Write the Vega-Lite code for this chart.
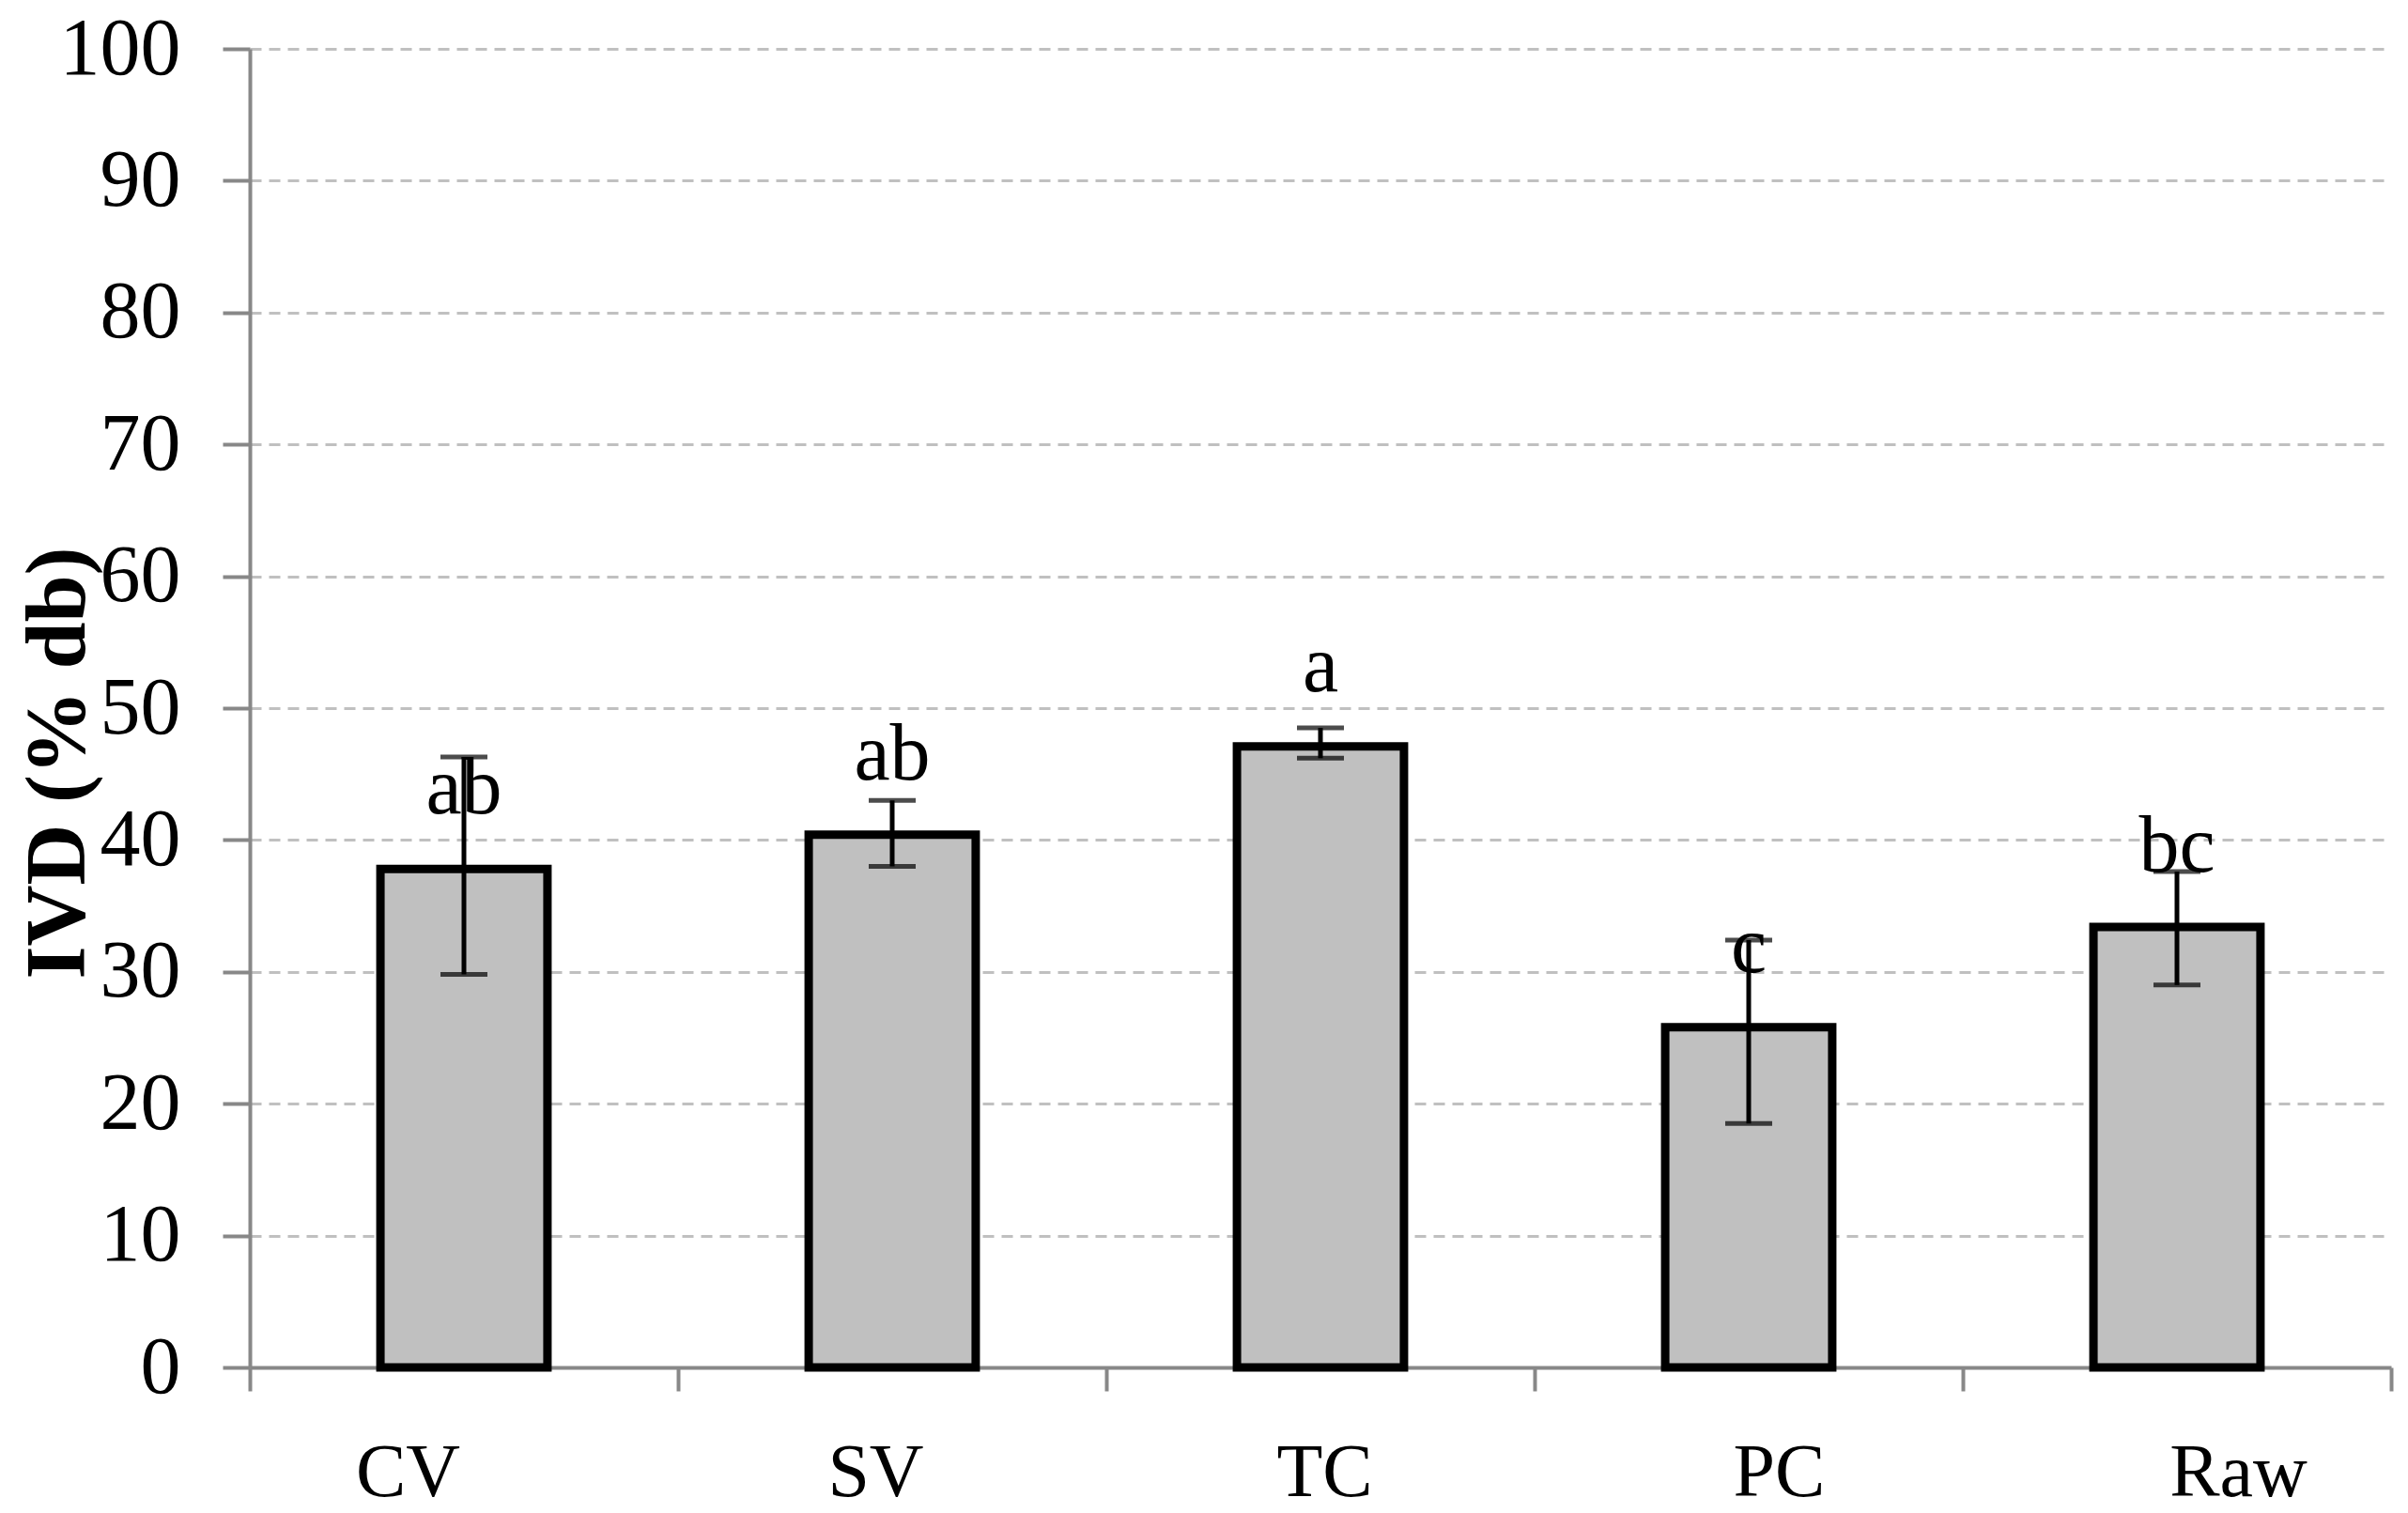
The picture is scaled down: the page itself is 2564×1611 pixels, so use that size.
{
  "$schema": "https://vega.github.io/schema/vega-lite/v6.json",
  "autosize": "none",
  "width": 2280,
  "height": 1404,
  "padding": {"left": 266, "top": 52, "right": 18, "bottom": 155},
  "background": "white",
  "config": {"view": {"stroke": null}},
  "data": {
    "values": [
      {"cat": "CV", "value": 37.8, "lo": 29.8, "hi": 46.3, "label": "ab"},
      {"cat": "SV", "value": 40.4, "lo": 38.0, "hi": 43.0, "label": "ab"},
      {"cat": "TC", "value": 47.1, "lo": 46.2, "hi": 48.5, "label": "a"},
      {"cat": "PC", "value": 25.8, "lo": 18.5, "hi": 32.4, "label": "c"},
      {"cat": "Raw", "value": 33.4, "lo": 29.0, "hi": 37.6, "label": "bc"}
    ]
  },
  "encoding": {
    "x": {
      "field": "cat", "type": "nominal", "sort": null,
      "scale": {"paddingInner": 0, "paddingOuter": 0},
      "axis": {
        "title": null, "labelAngle": 0,
        "labelFont": "Liberation Serif", "labelFontSize": 80, "labelColor": "black",
        "labelPadding": 48, "labelBaseline": "top",
        "labelOffset": {"condition": [
          {"test": "datum.value === 'CV'", "value": -60},
          {"test": "datum.value === 'SV'", "value": -18},
          {"test": "datum.value === 'PC'", "value": 32},
          {"test": "datum.value === 'Raw'", "value": 65}
        ], "value": 4},
        "tickBand": "extent", "tickSize": 25, "tickWidth": 4, "tickColor": "#888888",
        "domainColor": "#888888", "domainWidth": 4, "grid": false
      }
    }
  },
  "layer": [
    {
      "mark": {"type": "bar", "fill": "#c0c0c0", "stroke": "black", "strokeWidth": 9, "width": {"band": 0.39}},
      "encoding": {
        "y": {
          "field": "value", "type": "quantitative",
          "scale": {"domain": [0, 100], "nice": false},
          "axis": {
            "title": "IVD (% db)",
            "titleFont": "Liberation Serif", "titleFontSize": 90, "titleFontWeight": "bold", "titleColor": "black",
            "titleAngle": -90, "titleAlign": "center", "titleBaseline": "middle",
            "titleX": -204, "titleY": 760,
            "values": [0, 10, 20, 30, 40, 50, 60, 70, 80, 90, 100],
            "labelFont": "Liberation Serif", "labelFontSize": 86, "labelColor": "black",
            "labelPadding": 45,
            "tickSize": 29, "tickWidth": 4, "tickColor": "#888888",
            "domainColor": "#888888", "domainWidth": 4,
            "grid": true, "gridColor": "#c0c0c0", "gridWidth": 3, "gridDash": [12, 8]
          }
        }
      }
    },
    {
      "mark": {"type": "rule", "stroke": "black", "strokeWidth": 5},
      "encoding": {
        "y": {"field": "lo", "type": "quantitative"},
        "y2": {"field": "hi"}
      }
    },
    {
      "mark": {"type": "tick", "color": "black", "size": 50, "thickness": 5, "orient": "horizontal"},
      "encoding": {"y": {"field": "lo", "type": "quantitative"}}
    },
    {
      "mark": {"type": "tick", "color": "black", "size": 50, "thickness": 5, "orient": "horizontal"},
      "encoding": {"y": {"field": "hi", "type": "quantitative"}}
    },
    {
      "mark": {"type": "text", "font": "Liberation Serif", "fontSize": 86, "color": "black", "baseline": "alphabetic", "dy": -59},
      "encoding": {
        "y": {"field": "value", "type": "quantitative"},
        "text": {"field": "label"}
      }
    }
  ]
}
